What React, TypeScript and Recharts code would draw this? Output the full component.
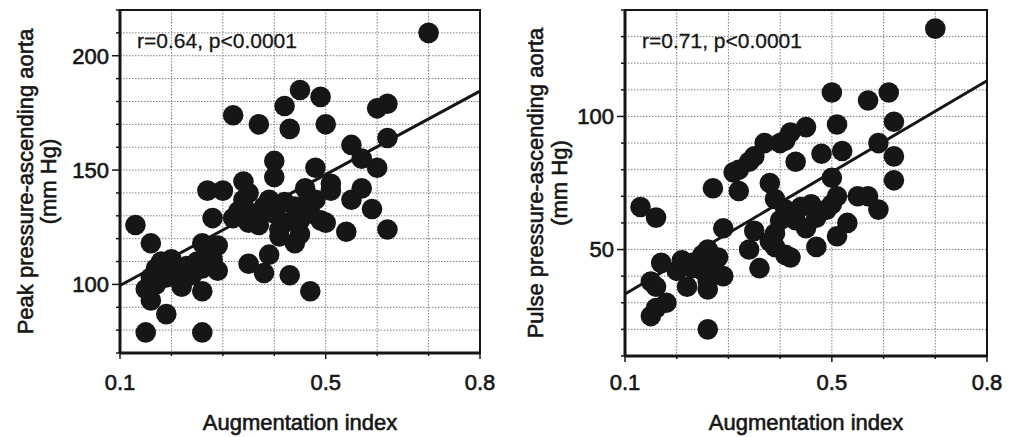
import {
  ScatterChart,
  Scatter,
  XAxis,
  YAxis,
  CartesianGrid,
  ReferenceLine,
  ReferenceArea,
} from "recharts";

// [augmentation index, peak pressure ascending aorta (mm Hg)]
const peakPoints: [number, number][] = [
  [0.7, 210], [0.32, 174], [0.45, 185], [0.42, 178], [0.49, 182], [0.37, 170],
  [0.43, 168], [0.5, 170], [0.6, 177], [0.62, 179], [0.62, 164], [0.55, 161],
  [0.57, 155], [0.6, 151], [0.48, 151], [0.4, 154], [0.4, 147], [0.46, 142],
  [0.51, 144], [0.51, 141], [0.57, 142], [0.55, 137], [0.59, 133], [0.62, 124],
  [0.54, 123], [0.5, 127], [0.27, 141], [0.3, 141], [0.34, 145], [0.35, 140],
  [0.28, 129], [0.26, 118], [0.29, 117], [0.28, 111], [0.26, 107], [0.26, 97],
  [0.26, 79], [0.15, 79], [0.19, 87], [0.16, 93], [0.15, 98], [0.17, 107],
  [0.2, 111], [0.22, 101], [0.23, 108], [0.13, 126], [0.16, 118], [0.35, 109],
  [0.38, 105], [0.39, 113], [0.43, 104], [0.47, 97], [0.34, 137], [0.35, 127],
  [0.38, 134], [0.4, 131], [0.41, 124], [0.42, 127], [0.44, 134], [0.44, 118],
  [0.45, 122], [0.47, 131], [0.48, 137], [0.49, 128], [0.32, 129], [0.33, 132],
  [0.39, 137], [0.42, 136], [0.46, 135], [0.45, 128], [0.41, 121], [0.37, 126],
  [0.36, 131], [0.16, 103], [0.18, 110], [0.21, 105], [0.22, 99], [0.19, 103],
  [0.27, 113], [0.29, 106], [0.25, 110], [0.17, 100], [0.24, 104],
];

// [augmentation index, pulse pressure ascending aorta (mm Hg)]
const pulsePoints: [number, number][] = [
  [0.7, 133], [0.5, 109], [0.61, 109], [0.57, 106], [0.62, 98], [0.51, 97],
  [0.45, 96], [0.42, 94], [0.41, 91], [0.37, 90], [0.4, 90], [0.59, 90],
  [0.52, 87], [0.48, 86], [0.62, 85], [0.43, 83], [0.35, 85], [0.34, 83],
  [0.32, 80], [0.31, 79], [0.5, 77], [0.62, 76], [0.38, 75], [0.27, 73],
  [0.32, 72], [0.51, 70], [0.55, 70], [0.57, 70], [0.59, 65], [0.13, 66],
  [0.16, 62], [0.53, 60], [0.51, 55], [0.47, 51], [0.42, 47], [0.29, 58],
  [0.34, 50], [0.36, 43], [0.35, 57], [0.39, 69], [0.41, 65], [0.43, 61],
  [0.45, 58], [0.47, 62], [0.49, 65], [0.5, 67], [0.44, 66], [0.4, 61],
  [0.39, 56], [0.39, 51], [0.38, 53], [0.41, 48], [0.46, 67], [0.17, 45],
  [0.15, 38], [0.16, 36], [0.18, 30], [0.16, 28], [0.15, 25], [0.26, 20],
  [0.21, 46], [0.23, 45], [0.2, 42], [0.22, 36], [0.25, 48], [0.26, 50],
  [0.28, 47], [0.27, 43], [0.25, 42], [0.29, 40], [0.26, 38], [0.26, 35],
  [0.23, 43],
];

// regression lines, [x, y] at both ends
const peakFit: [number, number][] = [[0.1, 99.5], [0.8, 184.5]];
const pulseFit: [number, number][] = [[0.1, 33.3], [0.8, 113.4]];

const xTicks = [0.1, 0.2, 0.3, 0.4, 0.5, 0.6, 0.7, 0.8];
const xLabels = [0.1, 0.5, 0.8];
const peakTicks = [70, 80, 90, 100, 110, 120, 130, 140, 150, 160, 170, 180, 190, 200, 210, 220];
const peakLabels = [100, 150, 200];
const pulseTicks = [10, 20, 30, 40, 50, 60, 70, 80, 90, 100, 110, 120, 130, 140];
const pulseLabels = [50, 100];

const FONT = '"Liberation Sans", Arial, Helvetica, sans-serif';
const INK = "#161616";
// scanned print looks a bit heavier than plain regular weight
const heavy = { stroke: INK, strokeWidth: 0.6 };

const yTick = (labels: number[]) => (props: any) => {
  const { x, y, payload } = props;
  const major = labels.includes(payload.value);
  return (
    <g>
      <line x1={x - (major ? 8 : 4)} x2={x} y1={y} y2={y} stroke={INK} strokeWidth={1.5} />
      {major && (
        <text x={x - 11} y={y} dy="0.36em" textAnchor="end" fontSize={22} fill={INK} fontFamily={FONT} {...heavy}>
          {payload.value}
        </text>
      )}
    </g>
  );
};

const xTick = (dy: number) => (props: any) => {
  const { x, y, payload } = props;
  const major = xLabels.includes(payload.value);
  return (
    <g>
      <line x1={x} x2={x} y1={y} y2={y + (major ? 6 : 3)} stroke={INK} strokeWidth={1.5} />
      {major && (
        <text x={x} y={y + dy} textAnchor="middle" fontSize={22} fill={INK} fontFamily={FONT} {...heavy}>
          {payload.value}
        </text>
      )}
    </g>
  );
};

const dot = (props: any) => <circle cx={props.cx} cy={props.cy} r={10.3} fill={INK} />;

interface PanelProps {
  points: [number, number][];
  fit: [number, number][];
  yDomain: [number, number];
  yTicks: number[];
  yLabels: number[];
  width: number;
  yAxisWidth: number;
  xAxisHeight: number;
  rightMargin: number;
  title: string;
  stat: string;
  statX: number;
  titleX: [number, number];
  xLabelDy: number;
}

function Panel(p: PanelProps) {
  const data = p.points.map(([x, y]) => ({ x, y }));
  const plotTop = 10;
  const plotBottom = 437 - p.xAxisHeight;
  const midY = (plotTop + plotBottom) / 2;
  const midX = (p.yAxisWidth + p.width - p.rightMargin) / 2;
  const textStyle = { fontFamily: FONT, fontSize: 22, fill: INK };
  return (
    <ScatterChart width={p.width} height={437} margin={{ top: plotTop, right: p.rightMargin, bottom: 0, left: 0 }}>
      <CartesianGrid stroke="#808080" strokeDasharray="1.5 1.5" strokeWidth={1} />
      <XAxis
        type="number"
        dataKey="x"
        domain={[0.1, 0.8]}
        ticks={xTicks}
        interval={0}
        height={p.xAxisHeight}
        tickSize={0}
        tickMargin={0}
        tick={xTick(p.xLabelDy)}
        axisLine={{ stroke: INK, strokeWidth: 3 }}
        allowDataOverflow
      />
      <YAxis
        type="number"
        dataKey="y"
        domain={p.yDomain}
        ticks={p.yTicks}
        interval={0}
        width={p.yAxisWidth}
        tickSize={0}
        tickMargin={0}
        tick={yTick(p.yLabels)}
        axisLine={{ stroke: INK, strokeWidth: 3 }}
        allowDataOverflow
      />
      <ReferenceArea
        x1={0.1}
        x2={0.8}
        y1={p.yDomain[0]}
        y2={p.yDomain[1]}
        fill="none"
        stroke={INK}
        strokeWidth={2}
        ifOverflow="visible"
      />
      <ReferenceLine
        segment={[
          { x: p.fit[0][0], y: p.fit[0][1] },
          { x: p.fit[1][0], y: p.fit[1][1] },
        ]}
        stroke={INK}
        strokeWidth={3}
      />
      <Scatter data={data} shape={dot} isAnimationActive={false} />
      <text x={p.statX} y={48} {...textStyle} fontSize={21} stroke={INK} strokeWidth={0.3}>
        {p.stat}
      </text>
      <text x={midX} y={430} textAnchor="middle" {...textStyle} {...heavy}>
        Augmentation index
      </text>
      <text
        x={p.titleX[0]}
        y={midY}
        textAnchor="middle"
        transform={`rotate(-90 ${p.titleX[0]} ${midY})`}
        {...textStyle}
        {...heavy}
      >
        {p.title}
      </text>
      <text
        x={p.titleX[1]}
        y={midY}
        textAnchor="middle"
        transform={`rotate(-90 ${p.titleX[1]} ${midY})`}
        {...textStyle}
        {...heavy}
      >
        (mm Hg)
      </text>
    </ScatterChart>
  );
}

export default function App() {
  return (
    <div style={{ position: "absolute", left: 0, top: 0, width: 1017, height: 437, background: "#fff" }}>
      <div style={{ position: "absolute", left: 0, top: 0 }}>
        <Panel
          points={peakPoints}
          fit={peakFit}
          yDomain={[70, 220]}
          yTicks={peakTicks}
          yLabels={peakLabels}
          width={500}
          yAxisWidth={120}
          xAxisHeight={84}
          rightMargin={20}
          title="Peak pressure-ascending aorta"
          stat="r=0.64, p<0.0001"
          statX={137}
          titleX={[33, 56]}
          xLabelDy={37}
        />
      </div>
      <div style={{ position: "absolute", left: 500, top: 0 }}>
        <Panel
          points={pulsePoints}
          fit={pulseFit}
          yDomain={[10, 140]}
          yTicks={pulseTicks}
          yLabels={pulseLabels}
          width={517}
          yAxisWidth={125}
          xAxisHeight={81}
          rightMargin={30}
          title="Pulse pressure-ascending aorta"
          stat="r=0.71, p<0.0001"
          statX={142}
          titleX={[43, 67]}
          xLabelDy={34}
        />
      </div>
    </div>
  );
}
